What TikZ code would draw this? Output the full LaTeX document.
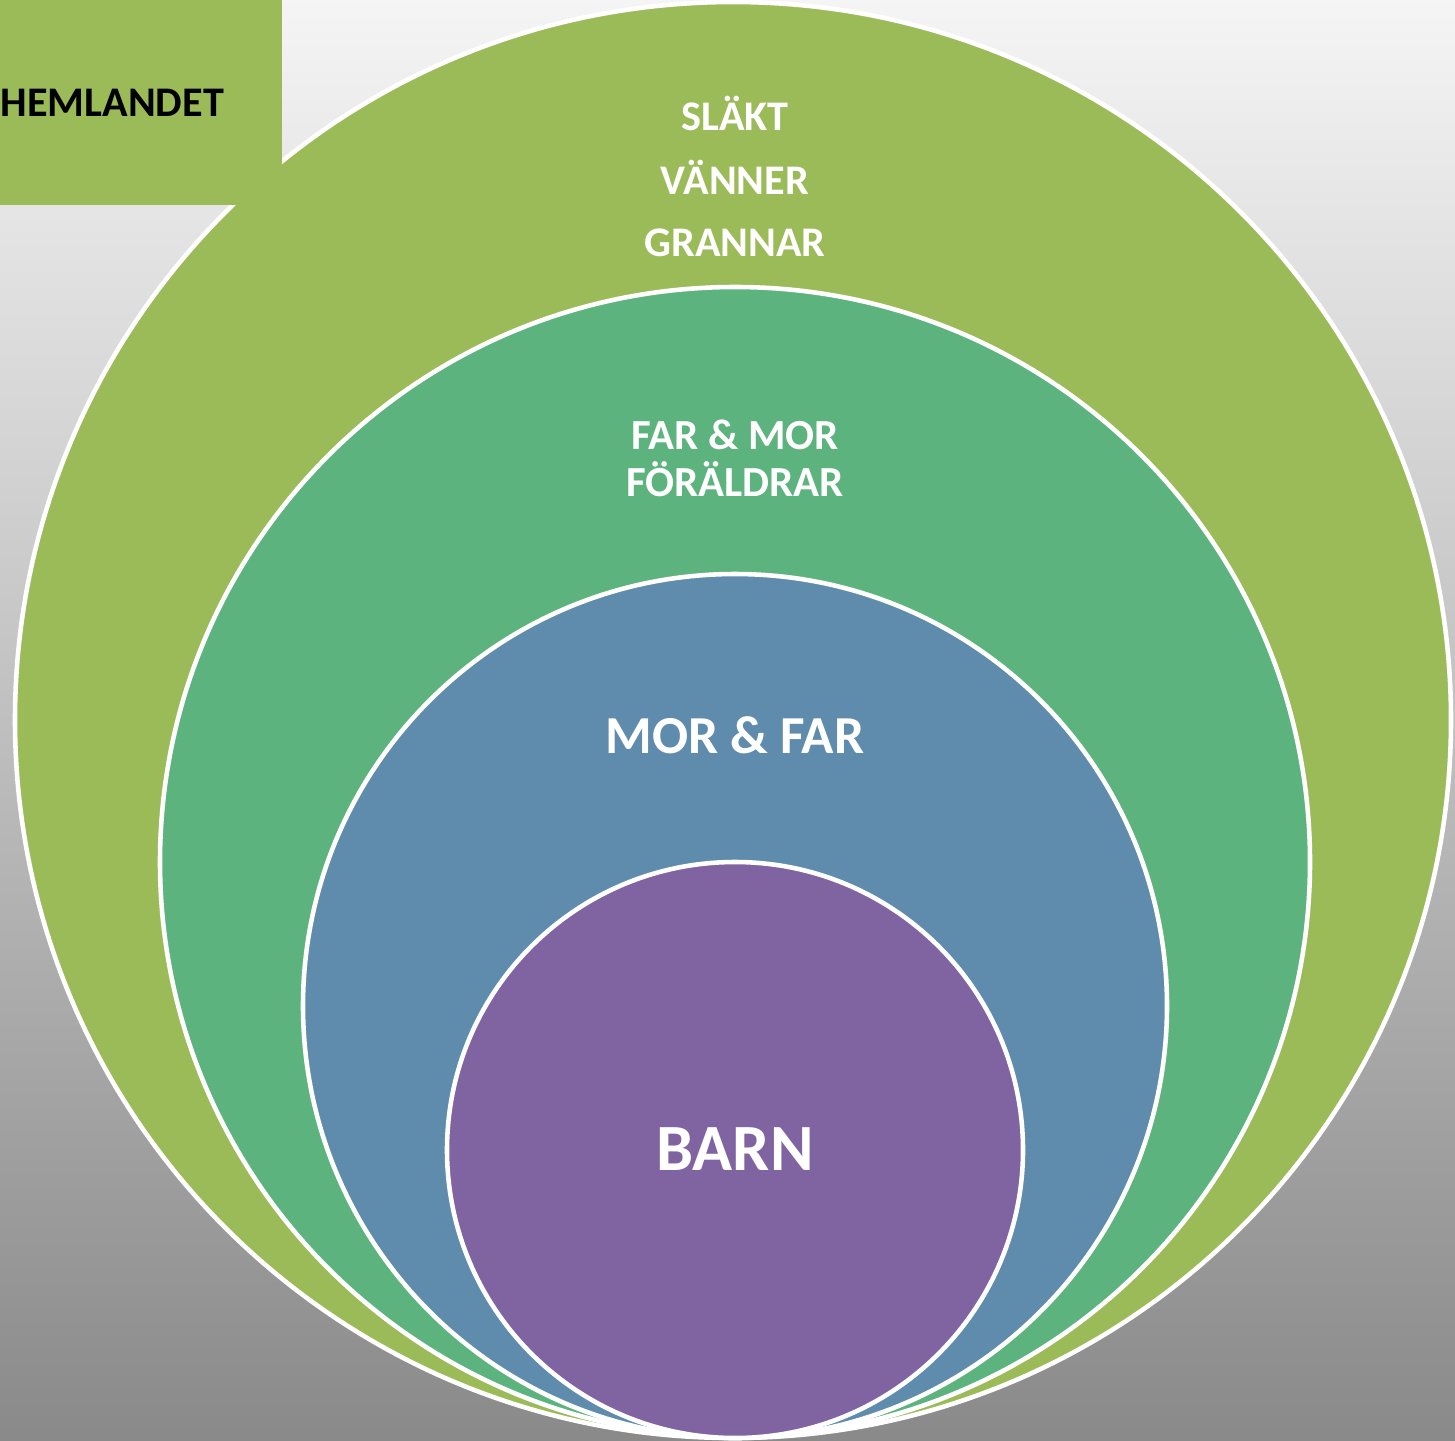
\documentclass[tikz,border=0pt]{standalone}
\usepackage{fontspec}
\setmainfont{Carlito}
\usetikzlibrary{positioning}

\definecolor{hemgreen}{HTML}{9BBB59}
\definecolor{famgreen}{HTML}{5DB37E}
\definecolor{parblue}{HTML}{5F8CAD}
\definecolor{kidpurple}{HTML}{8064A2}

\begin{document}
\begin{tikzpicture}[
		ring/.style={draw=white, line width=1.3pt},
		label/.style={text=white, align=center, inner sep=0pt}
	]
			\useasboundingbox (0,0) rectangle (14.55,-14.40);
			\shade[top color=gray!8, bottom color=black!46] (0,0) rectangle (14.55,-14.40);

			% rings, outermost first
			\draw[ring, fill=hemgreen] (7.33,-7.20) circle (7.18);
			\draw[ring, fill=famgreen] (7.35,-8.62) circle (5.75);
			\draw[ring, fill=parblue] (7.35,-10.06) circle (4.32);
			\draw[ring, fill=kidpurple] (7.35,-11.50) circle (2.88);

			% box in the corner lies over the outer ring
			\fill[hemgreen] (0,0) rectangle (2.82,-2.05);
			\node[anchor=west, inner sep=0pt, font=\fontsize{12}{14}\selectfont\bfseries] (hem) at (0,-1.03) {HEMLANDET};

			\node[label, font=\fontsize{12}{14}\selectfont\bfseries] (slakt) at (7.35,-1.13) {SLÄKT};
			\node[label, font=\fontsize{12}{14}\selectfont\bfseries] (vanner) at (7.35,-1.77) {VÄNNER};
			\node[label, font=\fontsize{12}{14}\selectfont\bfseries] (grannar) at (7.35,-2.43) {GRANNAR};

			\node[label, font=\fontsize{12.2}{13.4}\selectfont\bfseries] (foraldrar) at (7.35,-4.58) {FAR \& MOR\\FÖRÄLDRAR};
			\node[label, font=\fontsize{15.2}{18}\selectfont\bfseries] (morfar) at (7.35,-7.35) {MOR \& FAR};
			\node[label, font=\fontsize{18.8}{22}\selectfont\bfseries] (barn) at (7.35,-11.49) {BARN};
		\end{tikzpicture}
\end{document}
